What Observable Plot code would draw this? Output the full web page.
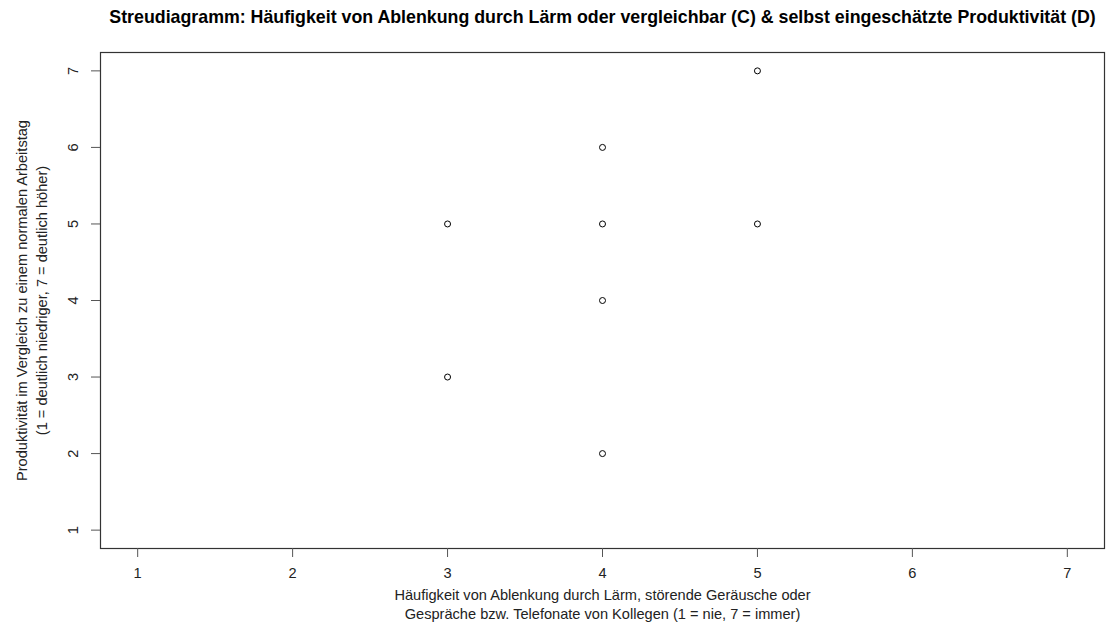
<!DOCTYPE html>
<html>
<head>
<meta charset="utf-8">
<script src="https://cdn.jsdelivr.net/npm/d3@7"></script>
<script src="https://cdn.jsdelivr.net/npm/@observablehq/plot@0.6"></script>
<style>
  html, body { margin: 0; padding: 0; background: #fff; }
  #chart svg { display: block; }
</style>
</head>
<body>
<div id="chart"></div>
<script>
const title = "Streudiagramm: Häufigkeit von Ablenkung durch Lärm oder vergleichbar (C) & selbst eingeschätzte Produktivität (D)";
const xLabel = "Häufigkeit von Ablenkung durch Lärm, störende Geräusche oder\nGespräche bzw. Telefonate von Kollegen (1 = nie, 7 = immer)";
const yLabel = "Produktivität im Vergleich zu einem normalen Arbeitstag\n(1 = deutlich niedriger, 7 = deutlich höher)";
const xTicks = [1, 2, 3, 4, 5, 6, 7];
const yTicks = [1, 2, 3, 4, 5, 6, 7];
const ablenkung = [3, 3, 4, 4, 4, 4, 5, 5];
const produktivitaet = [5, 3, 6, 5, 4, 2, 7, 5];

const points = ablenkung.map((x, i) => ({x, y: produktivitaet[i]}));
const font = "'Liberation Sans', Arial, sans-serif";

const chart = Plot.plot({
  width: 1116,
  height: 625,
  marginTop: 52,
  marginLeft: 100,
  marginRight: 12,
  marginBottom: 77,
  style: {fontFamily: font, fontSize: "14.6px", color: "#000", background: "#fff"},
  x: {domain: [0.76, 7.24]},
  y: {domain: [0.76, 7.24]},
  marks: [
    Plot.frame({stroke: "#333", strokeWidth: 1.2}),
    Plot.axisX(xTicks, {tickSize: 9, tickPadding: 10, stroke: "#555", fontSize: 14.6, fill: "#222", tickFormat: d => String(d), label: null}),
    Plot.axisY(yTicks, {tickSize: 9, stroke: "#555", text: null, label: null}),
    Plot.text(yTicks, {y: d => d, frameAnchor: "left", dx: -27, rotate: -90, textAnchor: "middle", lineAnchor: "middle", fontSize: 14.6, fill: "#222", text: d => String(d)}),
    Plot.dot(points, {x: "x", y: "y", r: 3, stroke: "#000", strokeWidth: 1, fill: "none"}),
    Plot.text([title], {frameAnchor: "top", dy: -35, textAnchor: "middle", lineAnchor: "middle", fontSize: 17.8, fontWeight: "bold", fill: "#000", text: d => d}),
    Plot.text([xLabel], {frameAnchor: "bottom", dy: 54.5, textAnchor: "middle", lineAnchor: "middle", fontSize: 14.6, fill: "#222", text: d => d, lineHeight: 1.3}),
    Plot.text([yLabel], {frameAnchor: "left", dx: -70, rotate: -90, textAnchor: "middle", lineAnchor: "middle", fontSize: 14.6, fill: "#222", text: d => d, lineHeight: 1.35})
  ]
});
document.getElementById("chart").append(chart);
</script>
</body>
</html>
